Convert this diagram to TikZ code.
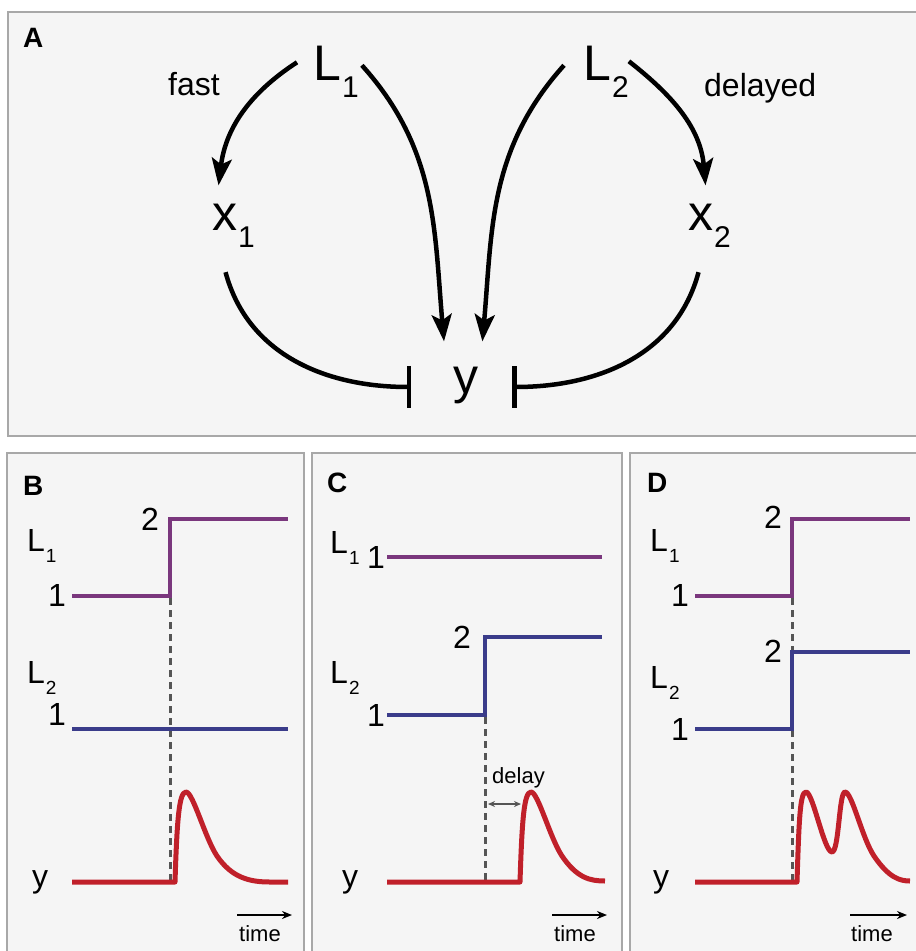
\documentclass[tikz,border=0pt]{standalone}
\usepackage{fontspec}
\setmainfont{Liberation Sans}
\usetikzlibrary{arrows.meta,positioning,calc}

\definecolor{panelbg}{RGB}{245,245,245}
\definecolor{framegray}{RGB}{168,168,168}
\definecolor{lonecol}{RGB}{122,55,125}
\definecolor{ltwocol}{RGB}{58,60,138}
\definecolor{ycol}{RGB}{192,32,42}
\definecolor{dashgray}{RGB}{85,85,85}

% lowered subscripts, big (panel A) and small (panels B-D)
\newcommand{\subA}[2]{#1\kern1pt\raisebox{-17pt}{\fontsize{30}{30}\selectfont #2}}
\newcommand{\subB}[2]{#1\kern1pt\raisebox{-11pt}{\fontsize{19}{19}\selectfont #2}}

\tikzset{
  panel/.style={fill=panelbg, draw=framegray, line width=2.5pt},
  tag/.style={font=\fontsize{28}{28}\selectfont\bfseries, anchor=base west, inner sep=0},
  big/.style={font=\fontsize{50}{50}\selectfont, inner sep=0, anchor=base west},
  side/.style={font=\fontsize{32}{32}\selectfont, inner sep=0, anchor=base west},
  act/.style={line width=4.5pt, -{Stealth[length=27pt,width=20pt,inset=6pt]}},
  inh/.style={line width=4.5pt, -{Bar[width=42pt]}},
  axlab/.style={font=\fontsize{32}{32}\selectfont, inner sep=0, anchor=base west},
  lvl/.style={font=\fontsize{32}{32}\selectfont, inner sep=0, anchor=base east},
  sig/.style={line width=4pt, line join=miter},
  resp/.style={line width=5pt, ycol, line join=round},
  guide/.style={line width=3pt, dashgray, dash pattern=on 7pt off 5pt},
  timeax/.style={line width=2pt, -{Stealth[length=10pt,width=8pt]}},
  small/.style={font=\fontsize{22}{22}\selectfont, inner sep=0, anchor=base}
}

\begin{document}
\begin{tikzpicture}[x=1pt, y=1pt]

\useasboundingbox (0,0) rectangle (916,-951);
\clip (0,0) rectangle (916,-951);
\fill[white] (0,0) rectangle (916,-951);

% ================= A: NETWORK =================
\draw[panel] (8,-12) rectangle (940,-436);
\node[tag] (tagA) at (23,-47) {A};

\node[big] (L1) at (313,-80) {\subA{L}{1}};
\node[big] (L2) at (583,-80) {\subA{L}{2}};
\node[big] (x1) at (212,-230) {\subA{x}{1}};
\node[big] (x2) at (688,-230) {\subA{x}{2}};
\node[big] (y) at (453,-393) {y};

\node[side] (fast) at (168,-95) {fast};
\node[side] (delayed) at (704,-96) {delayed};

% activation
\draw[act] ([xshift=-16pt,yshift=9pt]L1.west) to[out=213, in=83] ([xshift=-15pt,yshift=18pt]x1.north);
\draw[act] ([xshift=3pt,yshift=6pt]L1.east) to[out=-48, in=95] ([xshift=-9pt,yshift=25pt]y.north west);
\draw[act] ([xshift=-19pt,yshift=6pt]L2.west) to[out=228, in=85] ([xshift=4pt,yshift=25pt]y.north east);
\draw[act] ([xshift=0pt,yshift=10pt]L2.east) to[out=-38, in=95] ([xshift=-4pt,yshift=18pt]x2.north);

% inhibition
\draw[inh] ([xshift=-8pt,yshift=-25pt]x1.south) to[out=-75, in=180] ([xshift=-42pt,yshift=-2pt]y.west);
\draw[inh] ([xshift=-11pt,yshift=-25pt]x2.south) to[out=-105, in=0] ([xshift=34pt,yshift=-2pt]y.east);

% ================= B: L1 STEP =================
\draw[panel] (7,-453) rectangle (304,-970);
\node[tag] (tagB) at (23,-495) {B};

\draw[guide] (170,-598) -- (170,-880);
\draw[sig, lonecol] (72,-596) -- (170,-596) -- (170,-519) -- (288,-519);
\draw[sig, ltwocol] (72,-729) -- (288,-729);
\draw[resp] (72,-882) -- (175,-882) .. controls (177,-820) and (179,-792) .. (186,-792)
  .. controls (193,-792) and (205,-838) .. (217,-856)
  .. controls (232,-878) and (250,-882) .. (270,-882) -- (288,-882);

\node[axlab] (bL1) at (27,-551) {\subB{L}{1}};
\node[lvl] (bL1lo) at (66,-606) {1};
\node[lvl] (bL1hi) at (159,-530) {2};
\node[axlab] (bL2) at (27,-683) {\subB{L}{2}};
\node[lvl] (bL2lo) at (66,-725) {1};
\node[axlab] (by) at (32,-887) {y};

\draw[timeax] (237,-915) -- (292,-915);
\node[small] (bt) at (260,-941) {time};

% ================= C: L2 STEP =================
\draw[panel] (312,-453) rectangle (622,-970);
\node[tag] (tagC) at (327,-492) {C};

\draw[guide] (485,-717) -- (485,-880);
\draw[sig, lonecol] (387,-557) -- (602,-557);
\draw[sig, ltwocol] (387,-715) -- (485,-715) -- (485,-637) -- (602,-637);
\draw[resp] (387,-882) -- (520,-882) .. controls (522,-820) and (524,-792) .. (531,-792)
  .. controls (538,-792) and (550,-838) .. (562,-856)
  .. controls (577,-878) and (590,-881) .. (605,-881);

\node[axlab] (cL1) at (330,-553) {\subB{L}{1}};
\node[lvl] (cL1lo) at (385,-568) {1};
\node[axlab] (cL2) at (330,-683) {\subB{L}{2}};
\node[lvl] (cL2hi) at (471,-648) {2};
\node[lvl] (cL2lo) at (385,-726) {1};
\node[axlab] (cy) at (342,-887) {y};

\node[small, anchor=base west] (cdelay) at (492,-783) {delay};
\draw[line width=1.2pt, dashgray, {Stealth[length=7pt,width=6pt]}-{Stealth[length=7pt,width=6pt]}] (488,-804) -- (521,-804);

\draw[timeax] (552,-915) -- (607,-915);
\node[small] (ct) at (575,-941) {time};

% ================= D: BOTH STEPS =================
\draw[panel] (630,-453) rectangle (940,-970);
\node[tag] (tagD) at (647,-492) {D};

\draw[guide] (792,-598) -- (792,-880);
\draw[sig, lonecol] (695,-596) -- (792,-596) -- (792,-519) -- (910,-519);
\draw[sig, ltwocol] (695,-729) -- (792,-729) -- (792,-652) -- (910,-652);
\draw[resp] (695,-882) -- (797,-882) .. controls (799,-820) and (800,-792) .. (806,-792)
  .. controls (813,-792) and (824,-852) .. (832,-852)
  .. controls (839,-852) and (839,-792) .. (845,-792)
  .. controls (852,-792) and (862,-838) .. (874,-856)
  .. controls (889,-878) and (900,-881) .. (910,-881);

\node[axlab] (dL1) at (650,-551) {\subB{L}{1}};
\node[lvl] (dL1hi) at (782,-528) {2};
\node[lvl] (dL1lo) at (689,-606) {1};
\node[axlab] (dL2) at (650,-688) {\subB{L}{2}};
\node[lvl] (dL2hi) at (782,-662) {2};
\node[lvl] (dL2lo) at (689,-740) {1};
\node[axlab] (dy) at (653,-887) {y};

\draw[timeax] (850,-915) -- (907,-915);
\node[small] (dt) at (872,-941) {time};

\end{tikzpicture}
\end{document}
